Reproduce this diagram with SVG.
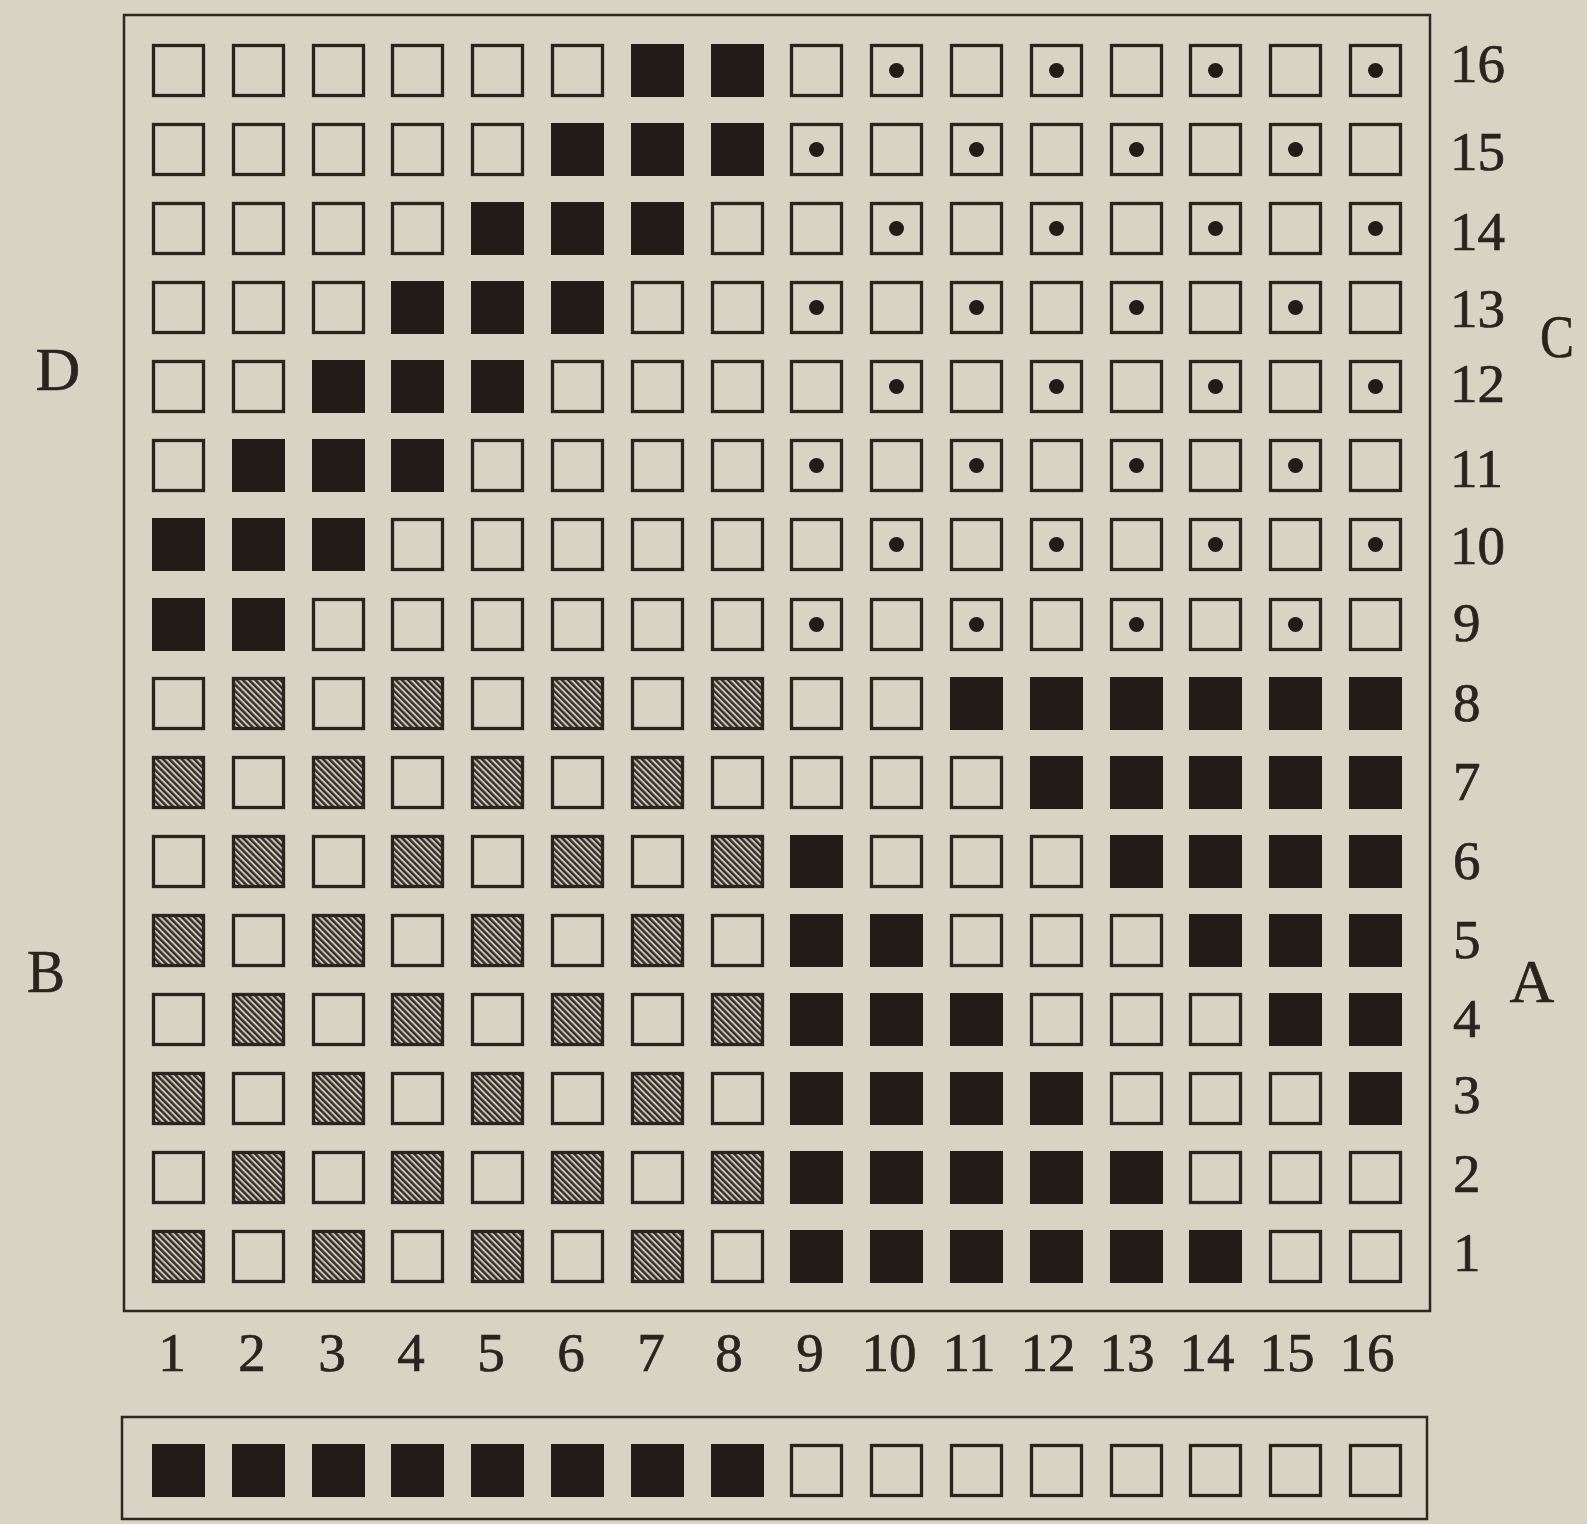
<svg xmlns="http://www.w3.org/2000/svg" width="1587" height="1524" viewBox="0 0 1587 1524">
<style>
.o{fill:none;stroke:#2a231f;stroke-width:3.3}
.k{fill:#231b18}
.fr{fill:none;stroke:#2e2723;stroke-width:2.5}
.t{font-family:"Liberation Serif",serif;font-size:55px;fill:#2a231f;stroke:#2a231f;stroke-width:0.7}
.L{font-family:"Liberation Serif",serif;font-size:62px;fill:#2a231f;stroke:#2a231f;stroke-width:0.6;text-anchor:middle}
.c{text-anchor:middle}
</style>
<defs>
<pattern id="hp" patternUnits="userSpaceOnUse" width="4.4" height="10" patternTransform="rotate(-45)">
<rect width="4.4" height="10" fill="#cbc5b6"/>
<rect width="2.4" height="10" fill="#342c28"/>
</pattern>
<g id="e"><rect x="1.5" y="1.5" width="50" height="50" class="o"/></g>
<g id="k"><rect x="0" y="0" width="53" height="53" class="k"/></g>
<g id="h"><rect x="1.5" y="1.5" width="50" height="50" fill="url(#hp)"/><rect x="1.5" y="1.5" width="50" height="50" class="o"/></g>
<g id="d"><rect x="1.5" y="1.5" width="50" height="50" class="o"/><circle cx="26.5" cy="26.5" r="7.5" fill="#231b18"/></g>
</defs>
<rect width="1587" height="1524" fill="#d9d3c3"/>
<g id="frame"><rect x="124" y="15" width="1306" height="1296" class="fr"/></g>
<g id="grid">
<g id="row-16">
<use href="#e" x="152" y="44"/><use href="#e" x="232" y="44"/><use href="#e" x="312" y="44"/><use href="#e" x="391" y="44"/><use href="#e" x="471" y="44"/><use href="#e" x="551" y="44"/><use href="#k" x="631" y="44"/><use href="#k" x="711" y="44"/><use href="#e" x="790" y="44"/><use href="#d" x="870" y="44"/><use href="#e" x="950" y="44"/><use href="#d" x="1030" y="44"/><use href="#e" x="1110" y="44"/><use href="#d" x="1189" y="44"/><use href="#e" x="1269" y="44"/><use href="#d" x="1349" y="44"/>
</g>
<g id="row-15">
<use href="#e" x="152" y="123"/><use href="#e" x="232" y="123"/><use href="#e" x="312" y="123"/><use href="#e" x="391" y="123"/><use href="#e" x="471" y="123"/><use href="#k" x="551" y="123"/><use href="#k" x="631" y="123"/><use href="#k" x="711" y="123"/><use href="#d" x="790" y="123"/><use href="#e" x="870" y="123"/><use href="#d" x="950" y="123"/><use href="#e" x="1030" y="123"/><use href="#d" x="1110" y="123"/><use href="#e" x="1189" y="123"/><use href="#d" x="1269" y="123"/><use href="#e" x="1349" y="123"/>
</g>
<g id="row-14">
<use href="#e" x="152" y="202"/><use href="#e" x="232" y="202"/><use href="#e" x="312" y="202"/><use href="#e" x="391" y="202"/><use href="#k" x="471" y="202"/><use href="#k" x="551" y="202"/><use href="#k" x="631" y="202"/><use href="#e" x="711" y="202"/><use href="#e" x="790" y="202"/><use href="#d" x="870" y="202"/><use href="#e" x="950" y="202"/><use href="#d" x="1030" y="202"/><use href="#e" x="1110" y="202"/><use href="#d" x="1189" y="202"/><use href="#e" x="1269" y="202"/><use href="#d" x="1349" y="202"/>
</g>
<g id="row-13">
<use href="#e" x="152" y="281"/><use href="#e" x="232" y="281"/><use href="#e" x="312" y="281"/><use href="#k" x="391" y="281"/><use href="#k" x="471" y="281"/><use href="#k" x="551" y="281"/><use href="#e" x="631" y="281"/><use href="#e" x="711" y="281"/><use href="#d" x="790" y="281"/><use href="#e" x="870" y="281"/><use href="#d" x="950" y="281"/><use href="#e" x="1030" y="281"/><use href="#d" x="1110" y="281"/><use href="#e" x="1189" y="281"/><use href="#d" x="1269" y="281"/><use href="#e" x="1349" y="281"/>
</g>
<g id="row-12">
<use href="#e" x="152" y="360"/><use href="#e" x="232" y="360"/><use href="#k" x="312" y="360"/><use href="#k" x="391" y="360"/><use href="#k" x="471" y="360"/><use href="#e" x="551" y="360"/><use href="#e" x="631" y="360"/><use href="#e" x="711" y="360"/><use href="#e" x="790" y="360"/><use href="#d" x="870" y="360"/><use href="#e" x="950" y="360"/><use href="#d" x="1030" y="360"/><use href="#e" x="1110" y="360"/><use href="#d" x="1189" y="360"/><use href="#e" x="1269" y="360"/><use href="#d" x="1349" y="360"/>
</g>
<g id="row-11">
<use href="#e" x="152" y="439"/><use href="#k" x="232" y="439"/><use href="#k" x="312" y="439"/><use href="#k" x="391" y="439"/><use href="#e" x="471" y="439"/><use href="#e" x="551" y="439"/><use href="#e" x="631" y="439"/><use href="#e" x="711" y="439"/><use href="#d" x="790" y="439"/><use href="#e" x="870" y="439"/><use href="#d" x="950" y="439"/><use href="#e" x="1030" y="439"/><use href="#d" x="1110" y="439"/><use href="#e" x="1189" y="439"/><use href="#d" x="1269" y="439"/><use href="#e" x="1349" y="439"/>
</g>
<g id="row-10">
<use href="#k" x="152" y="518"/><use href="#k" x="232" y="518"/><use href="#k" x="312" y="518"/><use href="#e" x="391" y="518"/><use href="#e" x="471" y="518"/><use href="#e" x="551" y="518"/><use href="#e" x="631" y="518"/><use href="#e" x="711" y="518"/><use href="#e" x="790" y="518"/><use href="#d" x="870" y="518"/><use href="#e" x="950" y="518"/><use href="#d" x="1030" y="518"/><use href="#e" x="1110" y="518"/><use href="#d" x="1189" y="518"/><use href="#e" x="1269" y="518"/><use href="#d" x="1349" y="518"/>
</g>
<g id="row-9">
<use href="#k" x="152" y="598"/><use href="#k" x="232" y="598"/><use href="#e" x="312" y="598"/><use href="#e" x="391" y="598"/><use href="#e" x="471" y="598"/><use href="#e" x="551" y="598"/><use href="#e" x="631" y="598"/><use href="#e" x="711" y="598"/><use href="#d" x="790" y="598"/><use href="#e" x="870" y="598"/><use href="#d" x="950" y="598"/><use href="#e" x="1030" y="598"/><use href="#d" x="1110" y="598"/><use href="#e" x="1189" y="598"/><use href="#d" x="1269" y="598"/><use href="#e" x="1349" y="598"/>
</g>
<g id="row-8">
<use href="#e" x="152" y="677"/><use href="#h" x="232" y="677"/><use href="#e" x="312" y="677"/><use href="#h" x="391" y="677"/><use href="#e" x="471" y="677"/><use href="#h" x="551" y="677"/><use href="#e" x="631" y="677"/><use href="#h" x="711" y="677"/><use href="#e" x="790" y="677"/><use href="#e" x="870" y="677"/><use href="#k" x="950" y="677"/><use href="#k" x="1030" y="677"/><use href="#k" x="1110" y="677"/><use href="#k" x="1189" y="677"/><use href="#k" x="1269" y="677"/><use href="#k" x="1349" y="677"/>
</g>
<g id="row-7">
<use href="#h" x="152" y="756"/><use href="#e" x="232" y="756"/><use href="#h" x="312" y="756"/><use href="#e" x="391" y="756"/><use href="#h" x="471" y="756"/><use href="#e" x="551" y="756"/><use href="#h" x="631" y="756"/><use href="#e" x="711" y="756"/><use href="#e" x="790" y="756"/><use href="#e" x="870" y="756"/><use href="#e" x="950" y="756"/><use href="#k" x="1030" y="756"/><use href="#k" x="1110" y="756"/><use href="#k" x="1189" y="756"/><use href="#k" x="1269" y="756"/><use href="#k" x="1349" y="756"/>
</g>
<g id="row-6">
<use href="#e" x="152" y="835"/><use href="#h" x="232" y="835"/><use href="#e" x="312" y="835"/><use href="#h" x="391" y="835"/><use href="#e" x="471" y="835"/><use href="#h" x="551" y="835"/><use href="#e" x="631" y="835"/><use href="#h" x="711" y="835"/><use href="#k" x="790" y="835"/><use href="#e" x="870" y="835"/><use href="#e" x="950" y="835"/><use href="#e" x="1030" y="835"/><use href="#k" x="1110" y="835"/><use href="#k" x="1189" y="835"/><use href="#k" x="1269" y="835"/><use href="#k" x="1349" y="835"/>
</g>
<g id="row-5">
<use href="#h" x="152" y="914"/><use href="#e" x="232" y="914"/><use href="#h" x="312" y="914"/><use href="#e" x="391" y="914"/><use href="#h" x="471" y="914"/><use href="#e" x="551" y="914"/><use href="#h" x="631" y="914"/><use href="#e" x="711" y="914"/><use href="#k" x="790" y="914"/><use href="#k" x="870" y="914"/><use href="#e" x="950" y="914"/><use href="#e" x="1030" y="914"/><use href="#e" x="1110" y="914"/><use href="#k" x="1189" y="914"/><use href="#k" x="1269" y="914"/><use href="#k" x="1349" y="914"/>
</g>
<g id="row-4">
<use href="#e" x="152" y="993"/><use href="#h" x="232" y="993"/><use href="#e" x="312" y="993"/><use href="#h" x="391" y="993"/><use href="#e" x="471" y="993"/><use href="#h" x="551" y="993"/><use href="#e" x="631" y="993"/><use href="#h" x="711" y="993"/><use href="#k" x="790" y="993"/><use href="#k" x="870" y="993"/><use href="#k" x="950" y="993"/><use href="#e" x="1030" y="993"/><use href="#e" x="1110" y="993"/><use href="#e" x="1189" y="993"/><use href="#k" x="1269" y="993"/><use href="#k" x="1349" y="993"/>
</g>
<g id="row-3">
<use href="#h" x="152" y="1072"/><use href="#e" x="232" y="1072"/><use href="#h" x="312" y="1072"/><use href="#e" x="391" y="1072"/><use href="#h" x="471" y="1072"/><use href="#e" x="551" y="1072"/><use href="#h" x="631" y="1072"/><use href="#e" x="711" y="1072"/><use href="#k" x="790" y="1072"/><use href="#k" x="870" y="1072"/><use href="#k" x="950" y="1072"/><use href="#k" x="1030" y="1072"/><use href="#e" x="1110" y="1072"/><use href="#e" x="1189" y="1072"/><use href="#e" x="1269" y="1072"/><use href="#k" x="1349" y="1072"/>
</g>
<g id="row-2">
<use href="#e" x="152" y="1151"/><use href="#h" x="232" y="1151"/><use href="#e" x="312" y="1151"/><use href="#h" x="391" y="1151"/><use href="#e" x="471" y="1151"/><use href="#h" x="551" y="1151"/><use href="#e" x="631" y="1151"/><use href="#h" x="711" y="1151"/><use href="#k" x="790" y="1151"/><use href="#k" x="870" y="1151"/><use href="#k" x="950" y="1151"/><use href="#k" x="1030" y="1151"/><use href="#k" x="1110" y="1151"/><use href="#e" x="1189" y="1151"/><use href="#e" x="1269" y="1151"/><use href="#e" x="1349" y="1151"/>
</g>
<g id="row-1">
<use href="#h" x="152" y="1230"/><use href="#e" x="232" y="1230"/><use href="#h" x="312" y="1230"/><use href="#e" x="391" y="1230"/><use href="#h" x="471" y="1230"/><use href="#e" x="551" y="1230"/><use href="#h" x="631" y="1230"/><use href="#e" x="711" y="1230"/><use href="#k" x="790" y="1230"/><use href="#k" x="870" y="1230"/><use href="#k" x="950" y="1230"/><use href="#k" x="1030" y="1230"/><use href="#k" x="1110" y="1230"/><use href="#k" x="1189" y="1230"/><use href="#e" x="1269" y="1230"/><use href="#e" x="1349" y="1230"/>
</g>
</g>
<g id="row-labels" class="t">
<text x="1450" y="82">16</text>
<text x="1450" y="170">15</text>
<text x="1450" y="250">14</text>
<text x="1450" y="327">13</text>
<text x="1450" y="402">12</text>
<text x="1450" y="487">11</text>
<text x="1450" y="564">10</text>
<text x="1453" y="641">9</text>
<text x="1453" y="721">8</text>
<text x="1453" y="800">7</text>
<text x="1453" y="879">6</text>
<text x="1453" y="958">5</text>
<text x="1453" y="1037">4</text>
<text x="1453" y="1113">3</text>
<text x="1453" y="1192">2</text>
<text x="1453" y="1271">1</text>
</g>
<g id="col-labels" class="t c">
<text x="172" y="1371" class="t c">1</text>
<text x="252" y="1371" class="t c">2</text>
<text x="332" y="1371" class="t c">3</text>
<text x="411" y="1371" class="t c">4</text>
<text x="491" y="1371" class="t c">5</text>
<text x="571" y="1371" class="t c">6</text>
<text x="651" y="1371" class="t c">7</text>
<text x="729" y="1371" class="t c">8</text>
<text x="810" y="1371" class="t c">9</text>
<text x="889" y="1371" class="t c">10</text>
<text x="969" y="1371" class="t c">11</text>
<text x="1048" y="1371" class="t c">12</text>
<text x="1127" y="1371" class="t c">13</text>
<text x="1207" y="1371" class="t c">14</text>
<text x="1287" y="1371" class="t c">15</text>
<text x="1367" y="1371" class="t c">16</text>
</g>
<g id="side-letters">
<text x="58" y="390" class="L">D</text>
<text x="1557" y="357" class="L" textLength="34" lengthAdjust="spacingAndGlyphs">C</text>
<text x="46" y="992" class="L" textLength="38" lengthAdjust="spacingAndGlyphs">B</text>
<text x="1532" y="1002" class="L">A</text>
</g>
<g id="bottom-strip">
<rect x="122" y="1417" width="1305" height="102" class="fr"/>
<use href="#k" x="152" y="1444"/><use href="#k" x="232" y="1444"/><use href="#k" x="312" y="1444"/><use href="#k" x="391" y="1444"/><use href="#k" x="471" y="1444"/><use href="#k" x="551" y="1444"/><use href="#k" x="631" y="1444"/><use href="#k" x="711" y="1444"/><use href="#e" x="790" y="1444"/><use href="#e" x="870" y="1444"/><use href="#e" x="950" y="1444"/><use href="#e" x="1030" y="1444"/><use href="#e" x="1110" y="1444"/><use href="#e" x="1189" y="1444"/><use href="#e" x="1269" y="1444"/><use href="#e" x="1349" y="1444"/>
</g>
</svg>
